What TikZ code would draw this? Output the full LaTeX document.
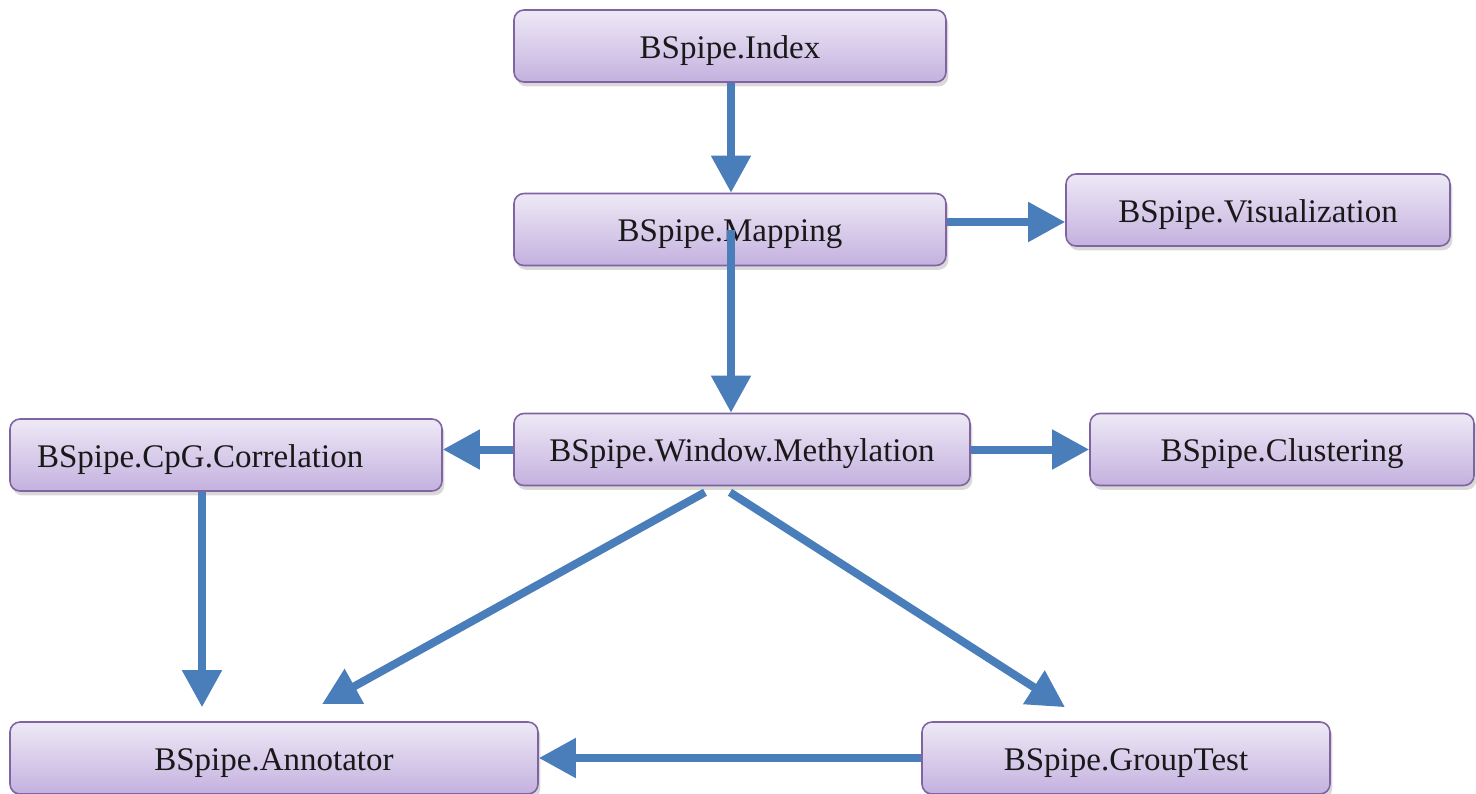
\documentclass[tikz,border=0pt]{standalone}
\usepackage{fontspec}
\setmainfont{Liberation Serif}
\usetikzlibrary{arrows.meta,shadows}

\definecolor{boxtop}{HTML}{EEE9F6}
\definecolor{boxbot}{HTML}{C4B1DF}
\definecolor{boxline}{HTML}{8064A2}
\definecolor{arrowblue}{HTML}{4A7EBB}

\begin{document}
\begin{tikzpicture}[x=0.5pt, y=-0.5pt]
\tikzset{ >={Triangle[width=19pt, length=18.5pt]},
  module/.style={draw=boxline, line width=0.8pt, rounded corners=5pt,
    top color=boxtop, bottom color=boxbot, minimum height=36pt,
    text height=13.5pt, text depth=1.5pt,
    font=\fontsize{16.5}{20}\selectfont, text=black!90,
    drop shadow={shadow xshift=1.2pt, shadow yshift=-2.2pt, opacity=0.3}},
  flow/.style={->, arrowblue, line width=4pt},
}

\useasboundingbox (0,0) rectangle (1476,793);

%\draw [lightgray, dashed](0,0) grid [step=50] (1476,793);

\node [module, minimum width=216pt] (index)  at (730,46)    {BSpipe.Index};
\node [module, minimum width=216pt] (mapping) at (730,229.5) {BSpipe.Mapping};
\node [module, minimum width=192pt] (visual) at (1258,210)  {BSpipe.Visualization};
\node [module, text width=189pt, inner xsep=13.5pt, align=left] (cpg) at (226,455) {BSpipe.CpG.Correlation};
\node [module, minimum width=228pt] (window) at (742,449.5) {BSpipe.Window.Methylation};
\node [module, minimum width=192pt] (cluster) at (1282,449.5) {BSpipe.Clustering};
\node [module, minimum width=264pt] (annot)  at (274,758)   {BSpipe.Annotator};
\node [module, minimum width=204pt] (group)  at (1126,758)  {BSpipe.GroupTest};

% pipeline
\draw [flow] ([xshift=0.5pt]index.south) -- ([xshift=0.5pt]mapping.north);
\draw [flow] ([yshift=3.75pt]mapping.east) -- ([yshift=3.75pt]mapping.east -| visual.west);
\draw [flow] ([xshift=0.5pt]mapping.center) -- ([xshift=0.5pt]mapping.center |- window.north);

% window outputs
\draw [flow] (window.west) -- (window.west -| cpg.east);
\draw [flow] (window.east) -- (window.east -| cluster.west);
\draw [flow] ([xshift=-18.5pt, yshift=-3pt]window.south) -- ([xshift=24pt, yshift=8.5pt]annot.north);
\draw [flow] ([xshift=-6pt, yshift=-3pt]window.south) -- ([xshift=-30.5pt, yshift=7pt]group.north);

% annotation
\draw [flow, shorten >=7pt] ([xshift=-12pt]cpg.south) -- ([xshift=-12pt]cpg.south |- annot.north);
\draw [flow] (group.west) -- (annot.east);

\end{tikzpicture}
\end{document}
